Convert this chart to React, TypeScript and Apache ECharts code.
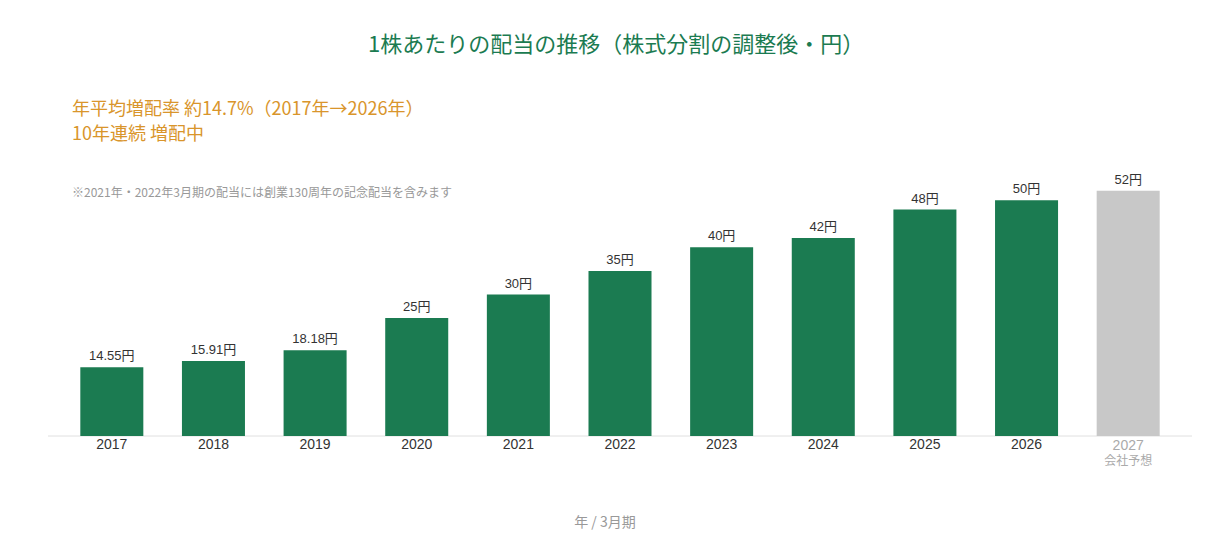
import React, { useEffect, useRef } from "react";
import * as echarts from "echarts";

const categories = ["2017", "2018", "2019", "2020", "2021", "2022", "2023", "2024", "2025", "2026", "2027"];
const dividends = [14.55, 15.91, 18.18, 25, 30, 35, 40, 42, 48, 50, 52];
const forecastIndex = 10;

const TITLE = "1株あたりの配当の推移（株式分割の調整後・円）";
const SUB1 = "年平均増配率 約14.7%（2017年→2026年）";
const SUB2 = "10年連続 増配中";
const NOTE = "※2021年・2022年3月期の配当には創業130周年の記念配当を含みます";
const XNAME = "年 / 3月期";
const FORECAST = "会社予想";

const GREEN = "#1b7b51";
const GRAY = "#c8c8c8";
const FONT = "'Noto Sans CJK JP', 'Noto Sans', sans-serif";
const NUMFONT = "'Liberation Sans', 'Noto Sans CJK JP', sans-serif";

export default function App() {
  const ref = useRef<HTMLDivElement>(null);
  useEffect(() => {
    document.body.style.margin = "0";
    const chart = echarts.init(ref.current!, null, { renderer: "svg" });
    chart.setOption({
      animation: false,
      textStyle: { fontFamily: FONT },
      title: {
        text: TITLE,
        left: 368,
        top: 31,
        padding: 0,
        textStyle: { color: GREEN, fontSize: 22, fontWeight: "normal", fontFamily: FONT },
      },
      grid: { left: 61, right: 31, top: 153, bottom: 103, containLabel: false },
      xAxis: {
        type: "category",
        data: categories,
        axisLine: { show: false },
        axisTick: { show: false },
        axisLabel: {
          margin: 1,
          fontSize: 14,
          fontFamily: NUMFONT,
          formatter: (v: string, i: number) =>
            i === forecastIndex ? `{f|${v}}\n{g|${FORECAST}}` : `{n|${v}}`,
          rich: {
            n: { color: "#333", fontSize: 14, fontFamily: NUMFONT, lineHeight: 14 },
            f: { color: "#aaa", fontSize: 14, fontFamily: NUMFONT, lineHeight: 15 },
            g: { color: "#aaa", fontSize: 12, fontFamily: FONT, lineHeight: 15 },
          },
        },
      },
      yAxis: {
        type: "value",
        min: 0,
        max: 60,
        show: false,
        splitLine: { show: false },
      },
      series: [
        {
          type: "bar",
          barWidth: "62%",
          data: dividends.map((v, i) => ({
            value: v,
            itemStyle: { color: i === forecastIndex ? GRAY : GREEN },
          })),
          label: {
            show: true,
            position: "top",
            distance: 5,
            color: "#333",
            fontSize: 13,
            fontFamily: NUMFONT,
            formatter: (p: any) => `${p.value}円`,
          },
        },
      ],
      graphic: [
        {
          type: "line",
          shape: { x1: 48, y1: 436, x2: 1192, y2: 436 },
          style: { stroke: "#e0e0e0", lineWidth: 1 },
          z: 0,
        },
        {
          type: "text",
          left: 72,
          top: 98,
          style: { text: SUB1, fill: "#d9952b", fontSize: 18, fontFamily: FONT },
        },
        {
          type: "text",
          left: 72,
          top: 123,
          style: { text: SUB2, fill: "#d9952b", fontSize: 18, fontFamily: FONT },
        },
        {
          type: "text",
          left: 72,
          top: 185,
          style: { text: NOTE, fill: "#999", fontSize: 12, fontFamily: FONT },
        },
        {
          type: "text",
          left: "center",
          top: 514,
          style: { text: XNAME, fill: "#999", fontSize: 14, fontFamily: FONT },
        },
      ],
    });
    return () => chart.dispose();
  }, []);
  return <div ref={ref} style={{ width: 1210, height: 539 }} />;
}
